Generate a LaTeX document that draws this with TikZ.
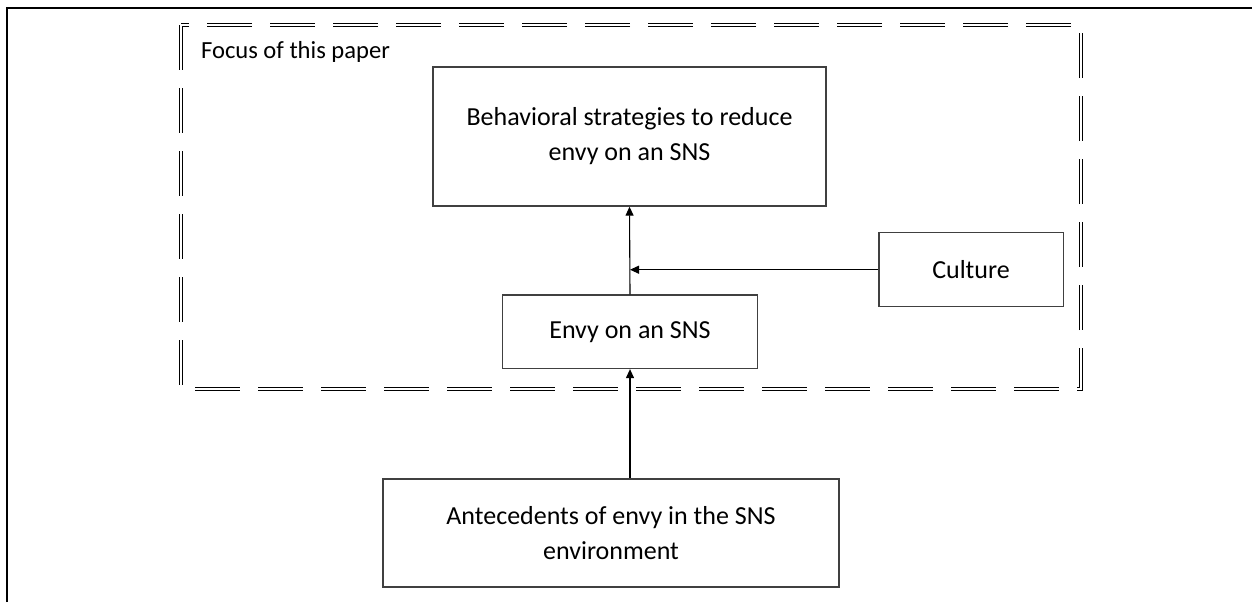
\documentclass[tikz,border=0pt]{standalone}
\usepackage{fontspec}
\setmainfont{Carlito}
\usetikzlibrary{arrows.meta, positioning, calc}

\begin{document}
\begin{tikzpicture}[
    x=0.5pt, y=-0.5pt,
    every node/.style={font=\fontsize{13}{17.5}\selectfont}, % one font for the boxes
    box/.style={draw=black!75, line width=0.7pt, align=center, inner sep=0pt}, % plain boxes
    link/.style={black, line width=0.55pt, -{Triangle[length=4.5pt, width=4pt]}}, % arrows
    focusline/.style={double, double distance=0.9pt, line width=0.7pt, dash pattern=on 22.5pt off 9pt}, % dashed double border
    cellframe/.style={black, line width=1pt} % table cell edges
]
    \useasboundingbox (0,0) rectangle (1252,602);

    % 1. cell edges (top and left only)
    \draw[cellframe] (6.5,602) -- (6.5,7.5) -- (1252,7.5);

    % 2. focus region
    \draw[focusline] (181,25) -- (181,389) -- (1081,389) -- (1081,25) -- cycle;
    \node[anchor=base west, font=\fontsize{12.3}{14}\selectfont] (focus) at (194,58) {Focus of this paper};

    % 3. boxes
    \node[box, minimum width=196.5pt, minimum height=69.5pt] (strategy) at (629.5,136.5)
        {Behavioral strategies to reduce\\envy on an SNS};
    \node[box, minimum width=127.3pt, minimum height=36.7pt] (envy) at (630,331.7) {Envy on an SNS};
    \node[box, minimum width=92.2pt, minimum height=37pt] (culture) at (971,269.7) {Culture};
    \node[box, minimum width=228pt, minimum height=54pt] (antecedents) at (611,533)
        {Antecedents of envy in the SNS\\environment};

    % 4. arrows
    \draw[link] (envy.north) -- (strategy.south);
    \coordinate (join) at (envy.north |- culture.west);
    \draw[link] (culture.west) -- (join);
    \coordinate (start) at (antecedents.north -| envy.south);
    \draw[link] (start) -- (envy.south);

\end{tikzpicture}
\end{document}
